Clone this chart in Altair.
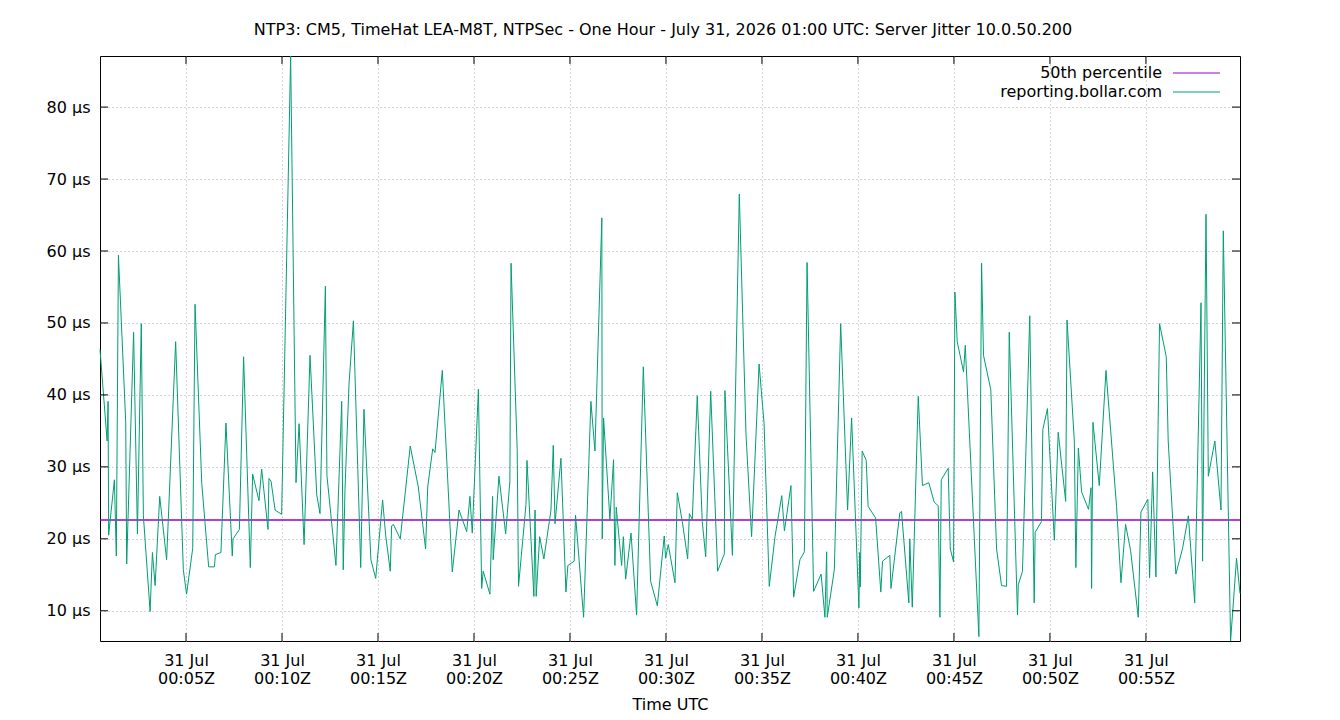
import altair as alt
import pandas as pd

# Sample times (minutes after 00:00Z, 31 Jul 2026) and server jitter in microseconds
minutes = [
    0.52, 0.89, 0.94, 0.97, 1.27, 1.37, 1.48, 1.86, 1.91, 2.27, 2.47, 2.67, 2.78, 3.13, 3.25,
    3.39, 3.63, 3.99, 4.46, 4.86, 5.03, 5.35, 5.47, 5.82, 6.18, 6.48, 6.53, 6.82, 7.08, 7.41,
    7.45, 7.78, 8.00, 8.35, 8.47, 8.80, 8.94, 9.27, 9.32, 9.43, 9.64, 9.98,
    10.45, 10.73, 10.89, 11.15, 11.46, 11.81, 11.98, 12.26, 12.34, 12.81, 13.11, 13.19, 13.28,
    13.49, 13.72, 14.10, 14.27, 14.63, 14.88, 15.24, 15.40, 15.64, 15.71, 15.80, 16.16, 16.68,
    17.10, 17.48, 17.59, 17.85, 17.97, 18.35, 18.87, 19.22, 19.62, 19.79, 19.91, 20.23,
    20.40, 20.48, 20.83, 20.97, 21.00, 21.30, 21.65, 21.87, 21.93, 22.25, 22.32, 22.71, 22.76,
    23.12, 23.18, 23.24, 23.42, 23.64, 24.01, 24.13, 24.22, 24.53, 24.79, 24.89, 25.22, 25.29,
    25.71, 26.09, 26.30, 26.66, 26.68, 26.75, 27.08, 27.27, 27.34, 27.41, 27.69, 27.78, 27.90,
    28.18, 28.47, 28.82, 29.20, 29.55, 29.91, 29.98, 30.12,
    30.47, 30.59, 30.85, 31.13, 31.22, 31.37, 31.63, 31.89, 32.07, 32.33, 32.69, 33.04, 33.07,
    33.46, 33.82, 34.17, 34.46, 34.85, 35.11, 35.38, 35.68, 36.03, 36.17, 36.51, 36.65, 36.98,
    37.21, 37.35, 37.69, 38.08, 38.28, 38.37, 38.40, 38.77, 39.10, 39.46, 39.67, 40.05, 40.09,
    40.12, 40.22, 40.43, 40.53, 40.92, 41.19, 41.28, 41.66, 41.72, 42.18, 42.27, 42.65, 42.70,
    42.83, 43.14, 43.36, 43.69, 43.97, 44.18, 44.27, 44.34, 44.70, 44.81, 44.98, 45.05, 45.17,
    45.50, 45.59, 46.30, 46.44, 46.54, 46.92, 47.22, 47.48, 47.74, 47.88, 48.31, 48.35, 48.57,
    48.95, 49.18, 49.23, 49.56, 49.63, 49.87,
    50.23, 50.43, 50.82, 50.89, 51.27, 51.35, 51.48, 51.65, 52.01, 52.14, 52.17, 52.24, 52.57,
    52.92, 53.47, 53.70, 53.94, 54.20, 54.60, 54.74, 55.10, 55.19, 55.35, 55.52, 55.71, 56.06,
    56.16, 56.56, 56.91, 57.21, 57.54, 57.87, 57.95, 58.13, 58.25, 58.59, 58.91, 59.03, 59.41,
    59.72, 59.90,
]
jitter_us = [
    46.3, 33.6, 39.1, 20.5, 28.2, 17.6, 59.4, 36.2, 16.5, 48.7, 20.7, 49.9, 23.2, 9.9, 18.1,
    13.5, 25.9, 17.1, 47.4, 15.7, 12.3, 18.7, 52.6, 27.7, 16.1, 16.1, 17.8, 18.1, 36.1, 17.6,
    20.0, 21.3, 45.3, 16.0, 29.0, 25.3, 29.7, 21.3, 28.4, 28.0, 24.0, 23.4,
    87.1, 27.8, 36.0, 19.2, 45.5, 26.1, 23.5, 55.1, 28.8, 16.3, 39.1, 15.7, 26.8,
    41.5, 50.3, 16.0, 38.0, 17.1, 14.5, 25.4, 20.5, 15.5, 21.8, 22.0, 20.0, 32.9,
    27.2, 18.6, 27.2, 32.5, 32.0, 43.4, 15.4, 24.0, 21.0, 25.9, 20.8, 40.8,
    13.1, 15.5, 12.3, 25.9, 17.1, 28.7, 20.7, 28.0, 58.3, 32.5, 13.4, 24.8, 30.9,
    12.0, 24.0, 12.0, 20.3, 17.2, 24.0, 33.0, 22.1, 31.2, 12.6, 16.3, 16.9, 23.3,
    9.1, 39.1, 32.2, 64.6, 20.0, 36.8, 22.7, 31.0, 16.3, 24.4, 16.3, 20.3, 14.4,
    20.8, 9.4, 43.9, 14.1, 10.7, 20.4, 17.3, 19.2,
    13.9, 26.4, 22.4, 17.2, 23.5, 22.7, 39.9, 22.4, 17.5, 40.5, 15.5, 17.9, 40.6,
    17.7, 67.9, 34.4, 20.3, 44.3, 36.0, 13.4, 20.3, 26.0, 21.1, 27.4, 11.9, 17.1,
    18.2, 58.4, 12.7, 15.1, 9.1, 18.2, 9.1, 15.7, 49.9, 24.0, 36.8, 10.4, 18.1,
    13.3, 32.2, 30.9, 24.5, 22.9, 12.6, 16.9, 17.7, 13.1, 23.6, 23.8, 11.1, 20.0,
    10.5, 39.8, 27.4, 27.8, 25.1, 24.6, 9.1, 28.2, 29.8, 18.6, 16.8, 54.3, 47.4,
    43.2, 46.9, 6.4, 58.3, 45.5, 40.7, 18.6, 13.5, 13.4, 48.7, 9.4, 13.6, 15.5,
    51.0, 11.1, 20.9, 22.4, 35.2, 38.1,
    19.8, 34.8, 25.2, 50.4, 33.6, 16.0, 32.6, 26.5, 24.1, 27.1, 13.1, 36.2, 27.4,
    43.4, 24.5, 13.9, 22.0, 18.4, 9.1, 23.7, 25.5, 14.6, 29.3, 14.7, 49.9, 45.3,
    33.6, 15.1, 18.7, 23.2, 11.1, 52.8, 16.9, 65.1, 28.7, 33.6, 24.0, 62.8, 5.8,
    17.3, 12.4,
]
median_us = 22.6

x_tick_minutes = [5, 10, 15, 20, 25, 30, 35, 40, 45, 50, 55]
y_tick_values = [10, 20, 30, 40, 50, 60, 70, 80]

legend_labels = ["50th percentile", "reporting.bollar.com"]
legend_colors = ["#9400D3", "#009E73"]

W, H = 1140, 585
FONT = "DejaVu Sans"
FS = 16
GRID = dict(grid=True, gridDash=[1, 3], gridColor="#a8a8a8", gridWidth=1,
            tickSize=0, domain=False,
            labelFont=FONT, labelFontSize=FS, labelColor="black")

base_ms = int(pd.Timestamp("2026-07-31T00:00:00Z").value // 10**6)
to_ms = lambda m: base_ms + int(round(m * 60000))

df = pd.DataFrame({"t": [to_ms(m) for m in minutes], "jitter": jitter_us})
xticks = pd.DataFrame({"t": [to_ms(m) for m in x_tick_minutes]})
yticks = pd.DataFrame({"v": y_tick_values})

x_scale = alt.Scale(type="utc", domain=[int(df.t.min()), int(df.t.max())], nice=False)
y_scale = alt.Scale(domain=[min(jitter_us), max(jitter_us)], nice=False, zero=False)

x_axis = alt.Axis(
    values=[int(v) for v in xticks.t],
    labelExpr="[utcFormat(datum.value, '%d %b'), utcFormat(datum.value, '%H:%MZ')]",
    labelLineHeight=18, labelPadding=11, labelFlush=False,
    title="Time UTC", titlePadding=10, titleFontWeight="normal", titleFontSize=FS,
    titleFont=FONT, titleColor="black",
    **GRID,
)
y_axis = alt.Axis(
    values=y_tick_values, labelExpr="datum.value + ' µs'", labelPadding=10,
    title=None, **GRID,
)

line = alt.Chart(df).mark_line(color="#009E73", strokeWidth=1).encode(
    x=alt.X("t:T", scale=x_scale, axis=x_axis),
    y=alt.Y("jitter:Q", scale=y_scale, axis=y_axis),
)

median = alt.Chart(pd.DataFrame({"jitter": [median_us]})).mark_rule(
    color="#9400D3", strokeWidth=1.5
).encode(y="jitter:Q")

# inward ticks on all four borders
tick_style = dict(color="black", strokeWidth=1)
xt_bottom = alt.Chart(xticks).mark_rule(**tick_style).encode(
    x="t:T", y=alt.value(H), y2=alt.value(H - 8))
xt_top = alt.Chart(xticks).mark_rule(**tick_style).encode(
    x="t:T", y=alt.value(0), y2=alt.value(8))
yt_left = alt.Chart(yticks).mark_rule(**tick_style).encode(
    y=alt.Y("v:Q"), x=alt.value(0), x2=alt.value(8))
yt_right = alt.Chart(yticks).mark_rule(**tick_style).encode(
    y=alt.Y("v:Q"), x=alt.value(W - 8), x2=alt.value(W))

legend_layers = []
for i, (lab, col) in enumerate(zip(legend_labels, legend_colors)):
    ypos = 17 + 19 * i
    ld = pd.DataFrame({"label": [lab]})
    legend_layers.append(
        alt.Chart(ld).mark_text(align="right", baseline="middle", font=FONT,
                                fontSize=FS, color="black").encode(
            x=alt.value(1062), y=alt.value(ypos), text="label:N")
    )
    legend_layers.append(
        alt.Chart(ld).mark_rule(color=col, strokeWidth=1).encode(
            x=alt.value(1073), x2=alt.value(1120), y=alt.value(ypos))
    )

chart = alt.layer(
    median, line, xt_bottom, xt_top, yt_left, yt_right, *legend_layers
).properties(
    width=W, height=H,
    background="white",
    title=alt.TitleParams(
        "NTP3: CM5, TimeHat LEA-M8T, NTPSec - One Hour - July 31, 2026 01:00 UTC: Server Jitter 10.0.50.200",
        font=FONT, fontSize=FS, fontWeight="normal", color="black", offset=16, dx=-7,
    ),
    autosize=alt.AutoSizeParams(type="none"),
    padding={"left": 100, "top": 56, "right": 100, "bottom": 79},
).configure_view(
    stroke="black", strokeWidth=1
)

chart.save("out.html", embed_options={"renderer": "svg", "actions": False})
